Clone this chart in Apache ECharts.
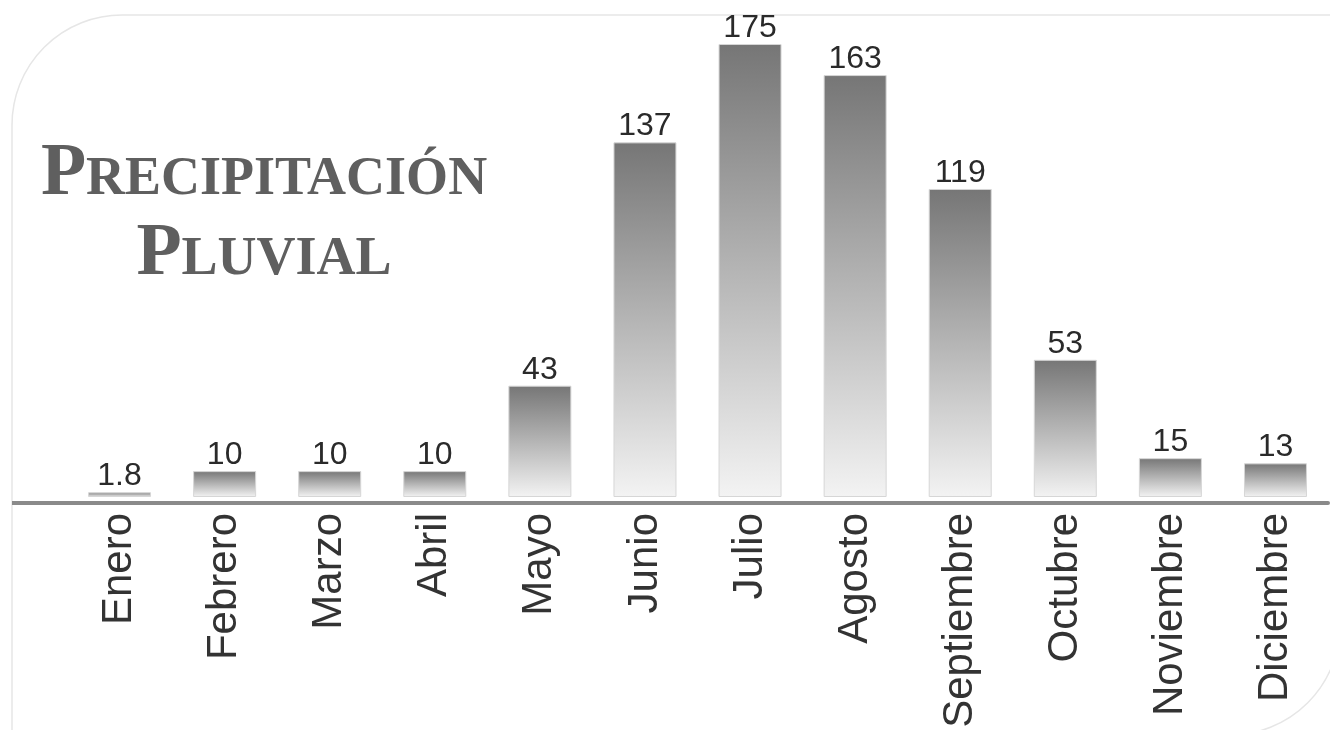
<!DOCTYPE html>
<html>
<head>
<meta charset="utf-8">
<script src="https://cdn.jsdelivr.net/npm/echarts@6/dist/echarts.min.js"></script>
<style>
html,body{margin:0;padding:0;background:#fff;}
#chart{width:1330px;height:730px;}
</style>
</head>
<body>
<div id="chart"></div>
<script>
const categories = ['Enero','Febrero','Marzo','Abril','Mayo','Junio','Julio','Agosto','Septiembre','Octubre','Noviembre','Diciembre'];
const values = [1.8, 10, 10, 10, 43, 137, 175, 163, 119, 53, 15, 13];
const titleLine1 = ['P', 'RECIPITACIÓN'];
const titleLine2 = ['P', 'LUVIAL'];

const chart = echarts.init(document.getElementById('chart'), null, {renderer: 'canvas'});
const narrow = "'Liberation Sans Narrow', 'Liberation Sans', sans-serif";

chart.setOption({
  backgroundColor: '#ffffff',
  animation: false,
  grid: {left: 67, right: 2, top: 0, bottom: 233, containLabel: false, outerBoundsMode: 'none'},
  xAxis: {
    type: 'category',
    data: categories,
    offset: 6,
    axisLine: {show: true, onZero: false, lineStyle: {color: '#8a8a8a', width: 4}},
    axisTick: {show: false},
    axisLabel: {
      rotate: 90,
      margin: 10,
      fontFamily: narrow,
      fontSize: 42,
      color: '#333333',
      interval: 0
    },
    splitLine: {show: false}
  },
  yAxis: {
    type: 'value',
    min: 0,
    max: 192,
    show: false,
    splitLine: {show: false}
  },
  graphic: [
    {
      type: 'rect', z: -10, silent: true,
      shape: {x: 12, y: 15, width: 1328, height: 720, r: [110, 0, 110, 0]},
      style: {fill: '#ffffff', stroke: '#e6e6e6', lineWidth: 1.5}
    },
    {
      type: 'line', z: 5, silent: true,
      shape: {x1: 12, y1: 503, x2: 68, y2: 503},
      style: {stroke: '#8a8a8a', lineWidth: 4}
    },
    {
      type: 'text', z: 10, silent: true,
      x: 264, y: 132,
      style: {
        text: '{b|' + titleLine1[0] + '}{s|' + titleLine1[1] + '}\n{b|' + titleLine2[0] + '}{s|' + titleLine2[1] + '}',
        align: 'center',
        verticalAlign: 'top',
        fill: '#5f5f5f',
        rich: {
          b: {fontFamily: "'Liberation Serif', serif", fontWeight: 'bold', fontSize: 74, fill: '#5f5f5f', lineHeight: 80, verticalAlign: 'bottom'},
          s: {fontFamily: "'Liberation Serif', serif", fontWeight: 'bold', fontSize: 54, fill: '#5f5f5f', lineHeight: 80, verticalAlign: 'bottom', padding: [0, 0, 5, 0]}
        }
      }
    }
  ],
  series: [{
    type: 'bar',
    data: values,
    barWidth: 63,
    itemStyle: {
      color: new echarts.graphic.LinearGradient(0, 0, 0, 1, [
        {offset: 0, color: '#767676'},
        {offset: 1, color: '#f3f3f3'}
      ]),
      borderColor: '#d6d6d6',
      borderWidth: 1
    },
    label: {
      show: true,
      position: 'top',
      distance: 0,
      fontFamily: narrow,
      fontSize: 32,
      color: '#2a2a2a'
    }
  }]
});
</script>
</body>
</html>
